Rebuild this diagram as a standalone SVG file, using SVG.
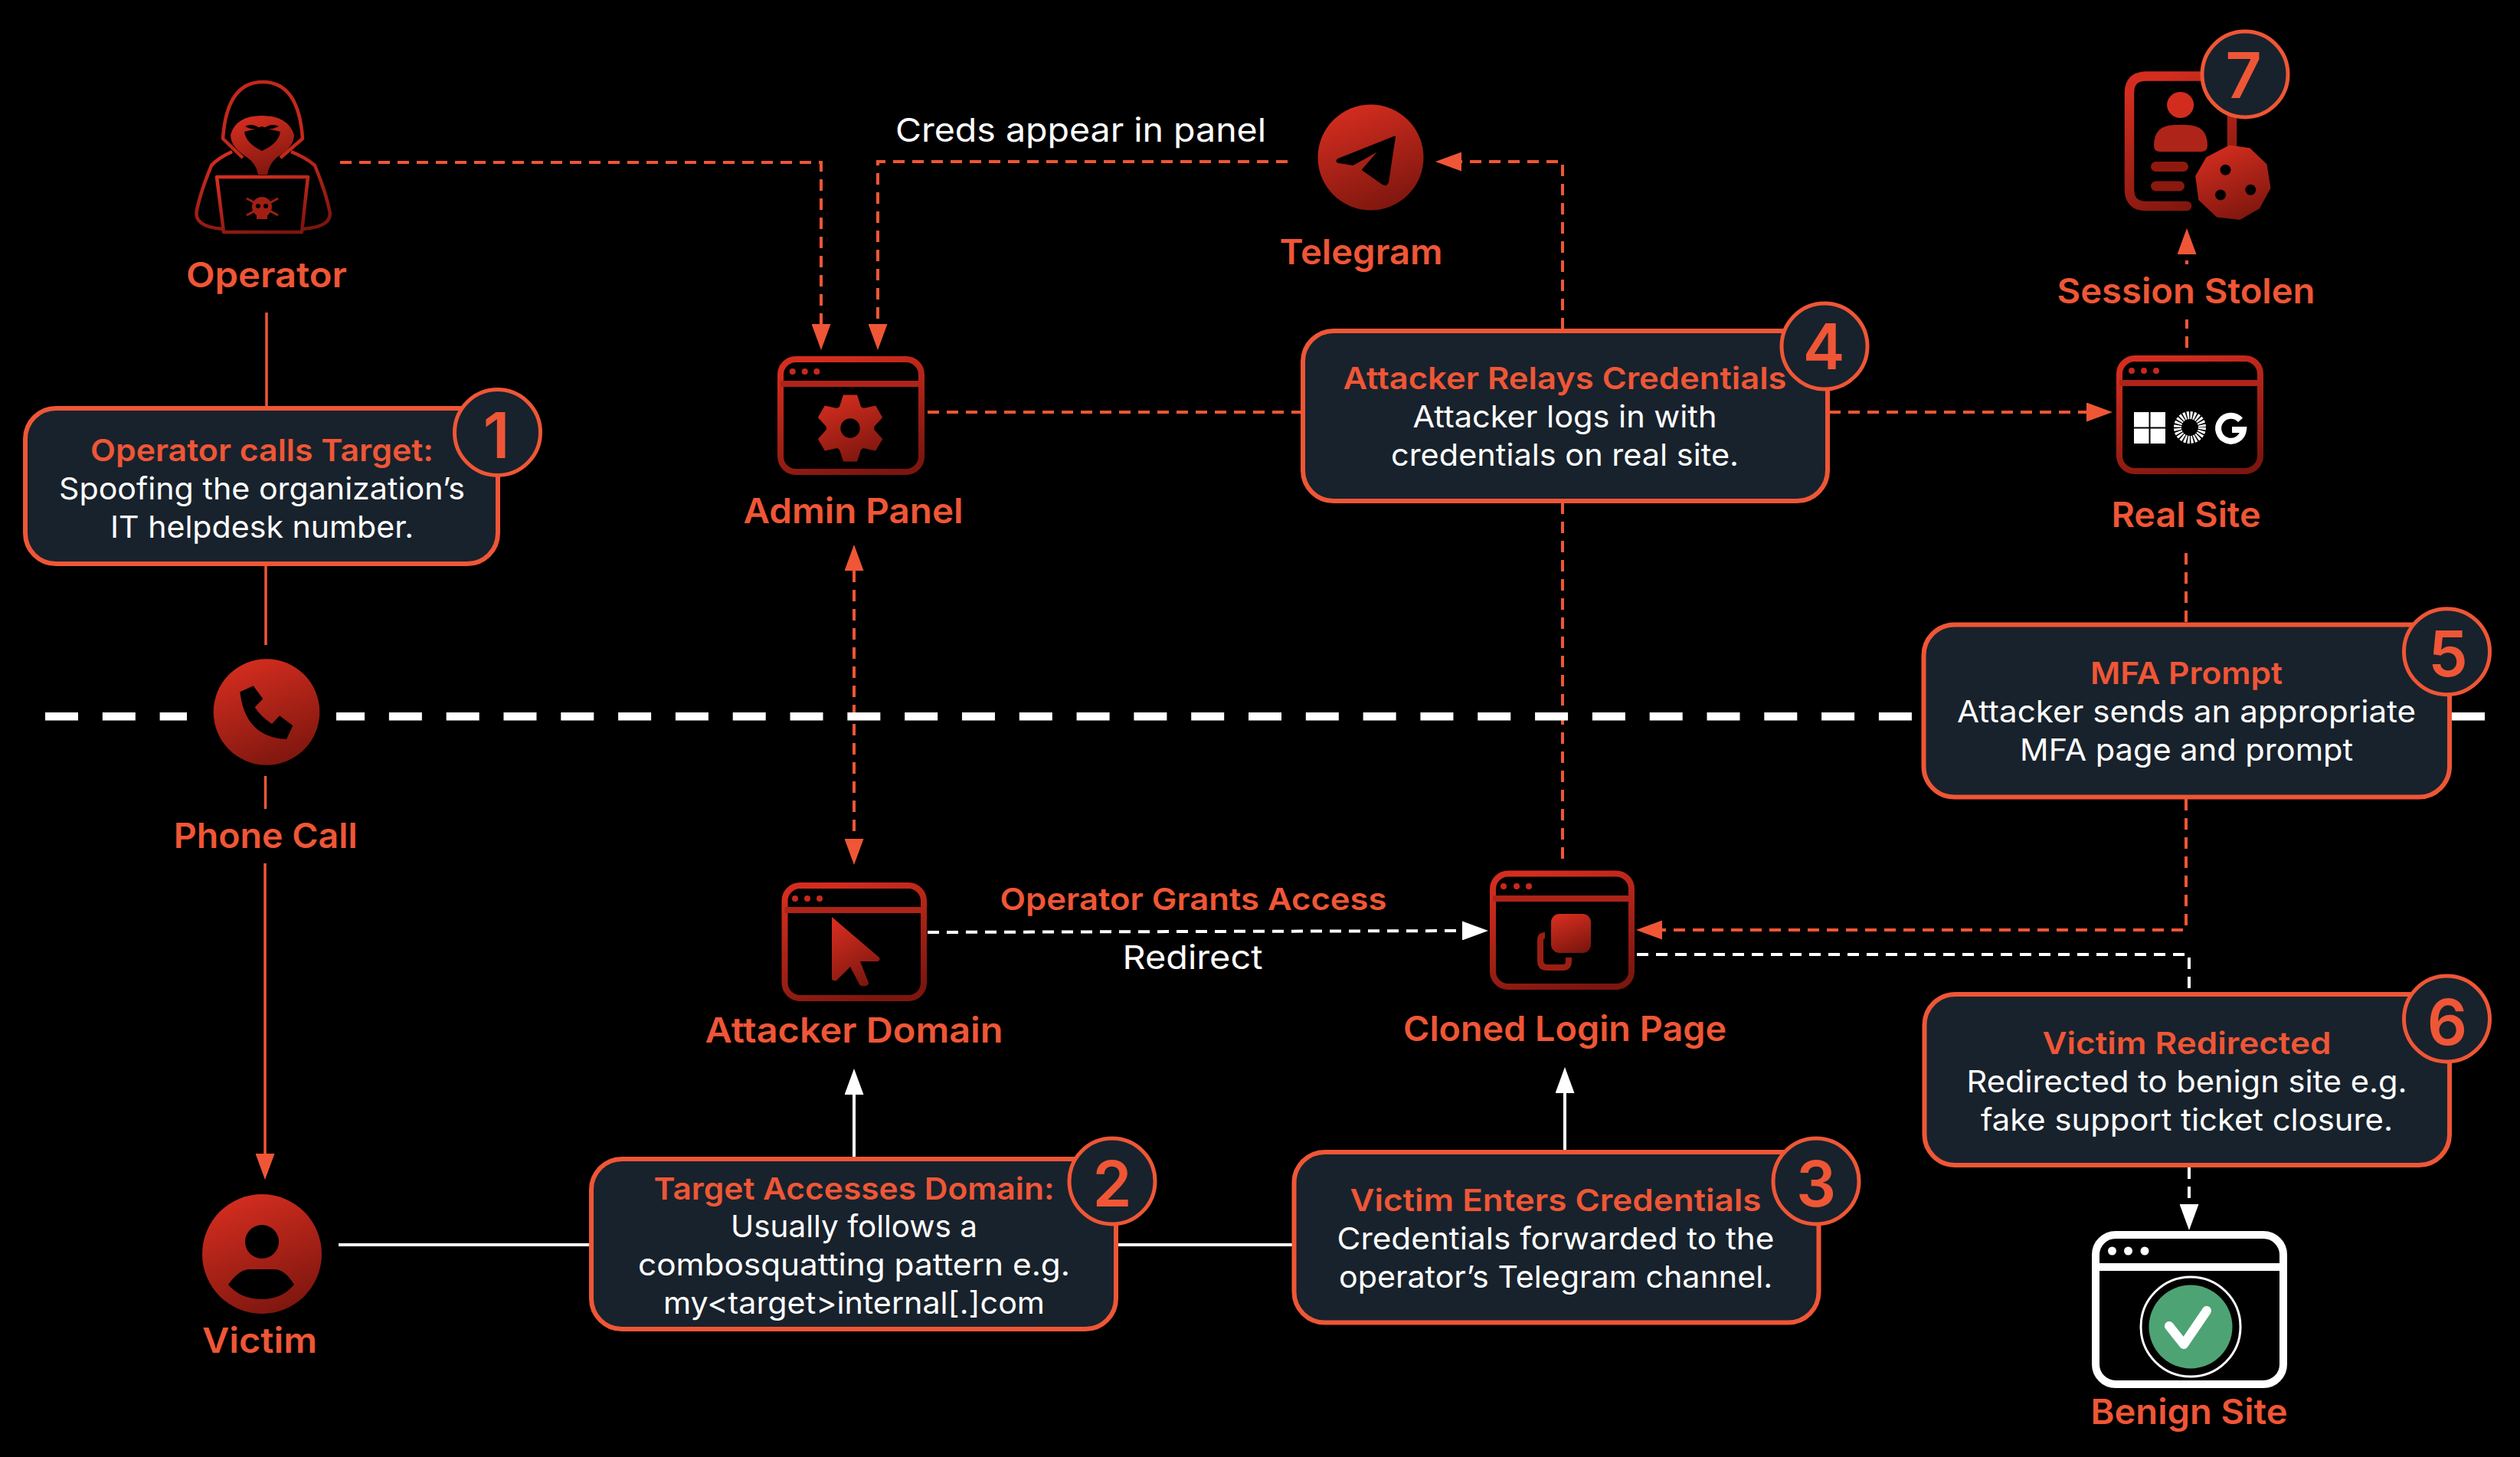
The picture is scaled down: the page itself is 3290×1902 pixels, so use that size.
<svg xmlns="http://www.w3.org/2000/svg" width="3290" height="1902" viewBox="0 0 3290 1902">
<defs>
<linearGradient id="g" x1="0.3" y1="0" x2="0.7" y2="1"><stop offset="0" stop-color="#D42D1F"/><stop offset="1" stop-color="#7C160E"/></linearGradient>
<marker id="ao" viewBox="0 0 34 25" markerUnits="userSpaceOnUse" markerWidth="34" markerHeight="25" refX="0" refY="12.5" orient="auto-start-reverse"><path d="M0,0L34,12.5L0,25Z" fill="#EF5636"/></marker>
<marker id="aw" viewBox="0 0 34 25" markerUnits="userSpaceOnUse" markerWidth="34" markerHeight="25" refX="0" refY="12.5" orient="auto-start-reverse"><path d="M0,0L34,12.5L0,25Z" fill="#fff"/></marker>
</defs>
<style>
text{font-family:"Inter","Liberation Sans",sans-serif;text-anchor:middle;}
.b{font-size:40px;font-weight:400;fill:#fff;}
.h{font-size:40px;font-weight:600;fill:#EF5636;}
.l{font-size:45px;font-weight:600;fill:#EF5636;}
.w{font-size:43px;font-weight:400;fill:#fff;}
.n{font-size:82px;font-weight:600;fill:#EF5636;}
.box{fill:#18222C;stroke:#EF5636;stroke-width:6;}
.badge{fill:#18222C;stroke:#EF5636;stroke-width:5;}
.win{fill:none;stroke:url(#g);stroke-width:8;}
.bar{fill:#AE2418;}
.dot{fill:#C9291C;}
.od{fill:none;stroke:#EF5636;stroke-width:4;stroke-dasharray:15 10;}
.wd{fill:none;stroke:#fff;stroke-width:4;stroke-dasharray:15 10;}
.os{fill:none;stroke:#EF5636;stroke-width:3.5;}
.ws{fill:none;stroke:#fff;stroke-width:4;}
.ico{fill:url(#g);}
.cut{fill:#000;}
</style>
<rect width="3290" height="1902" fill="#000"/>
<g id="connectors">
<path class="od" d="M444,212H1072V423" marker-end="url(#ao)"/>
<path class="od" d="M1681,211H1146V423" marker-end="url(#ao)"/>
<path class="od" d="M1211,538H1699"/>
<path class="od" d="M2388,538H2724" marker-end="url(#ao)"/>
<path class="od" d="M2040,430V211H1908" marker-end="url(#ao)"/>
<path class="od" d="M2040,656V1131"/>
<path class="od" d="M2855,454V417"/>
<path class="od" d="M2855,345V332" style="stroke-dasharray:5 8" marker-end="url(#ao)"/>
<path class="od" d="M2854,722V814"/>
<path class="od" d="M2854,1043V1214H2170" marker-end="url(#ao)"/>
<path class="wd" d="M2137,1246H2858V1296"/>
<path class="wd" d="M2858,1524V1572" marker-end="url(#aw)"/>
<path class="wd" d="M1211,1217L1909,1215" marker-end="url(#aw)"/>
<path class="od" d="M1115,745V1095" marker-start="url(#ao)" marker-end="url(#ao)"/>
<path class="os" d="M348,408V532"/>
<path class="os" d="M347,738V842"/>
<path class="os" d="M346.5,1013V1056"/>
<path class="os" d="M346,1127V1506" marker-end="url(#ao)"/>
<path class="ws" d="M442,1625H770"/>
<path class="ws" d="M1459,1625H1687"/>
<path class="ws" d="M1115,1511V1429" marker-end="url(#aw)"/>
<path class="ws" d="M2043,1502V1427" marker-end="url(#aw)"/>
</g>
<g id="divider">
<path d="M59,935.3H3244" fill="none" stroke="#fff" stroke-width="10.5" stroke-dasharray="43 31.81"/>
<rect x="244" y="925" width="195" height="21" fill="#000"/>
</g>
<g id="operator">
<path d="M317,206L291,181Q296,107 343,107Q390,107 395,181L366,206" fill="none" stroke="#C3281B" stroke-width="4.5" stroke-linejoin="round"/>
<path d="M303,198Q285,206 276,216Q262,250 257,274Q252,296 291,299M380,198Q400,206 411,216Q425,250 430,274Q436,296 395,299" fill="none" stroke="url(#g)" stroke-width="4.5"/>
<path class="ico" d="M301,176Q308,151 342,151Q376,151 384,176Q384,192 362,205Q351,214 349,228H337Q335,214 322,205Q301,192 301,176Z"/>
<path class="cut" d="M319,172Q330,170 342,165Q354,170 366,172Q364,187 342,197Q321,187 319,172Z"/>
<path class="cut" d="M320,165Q330,160 340,168Q328,170 320,165ZM344,168Q354,160 364,165Q354,170 344,168Z"/>
<path d="M283,231H402L394,303H292Z" fill="#000" stroke="url(#g)" stroke-width="4.5" stroke-linejoin="round"/>
<path d="M322,259L363,281M363,259L322,281" stroke="#A01F13" stroke-width="3" fill="none"/>
<circle cx="342" cy="270" r="13" fill="#A01F13"/><rect x="335" y="278" width="14" height="8" fill="#A01F13"/>
<circle cx="337" cy="269" r="3" fill="#000"/><circle cx="347" cy="269" r="3" fill="#000"/>
<text class="l" x="348" y="375" textLength="210" lengthAdjust="spacingAndGlyphs">Operator</text>
</g>
<g id="step1">
<rect class="box" x="33" y="533" width="617" height="203" rx="40"/>
<circle class="badge" cx="649.5" cy="564.5" r="56"/>
<text class="n" x="648" y="598">1</text>
<text class="h" x="342" y="601.5" textLength="448" lengthAdjust="spacingAndGlyphs">Operator calls Target:</text>
<text class="b" x="342" y="651.5" textLength="530" lengthAdjust="spacingAndGlyphs">Spoofing the organization’s</text>
<text class="b" x="342" y="701.5" textLength="396" lengthAdjust="spacingAndGlyphs">IT helpdesk number.</text>
</g>
<g id="phone-call">
<circle class="ico" cx="348" cy="929.5" r="69.3"/>
<path class="cut" d="M313.3,903.3L330.7,895.3L343.3,912.3L332.7,923.3Q341,936 355,945L365,934.3L382.3,947.3L374,965Q320,962.6 313.3,903.3Z"/>
<text class="l" x="346.7" y="1107" textLength="240" lengthAdjust="spacingAndGlyphs">Phone Call</text>
</g>
<g id="victim">
<circle class="ico" cx="342" cy="1637" r="78"/>
<circle class="cut" cx="342" cy="1621" r="22"/>
<path class="cut" d="M298,1677Q312,1657 326,1657H358Q372,1657 384,1677Q368,1696 342,1696Q314,1696 298,1677Z"/>
<text class="l" x="339" y="1766" textLength="150" lengthAdjust="spacingAndGlyphs">Victim</text>
</g>
<g id="admin-panel">
<rect class="win" x="1019" y="469" width="184" height="147" rx="20"/>
<rect class="bar" x="1019" y="497" width="184" height="8"/>
<circle class="dot" cx="1034.7" cy="485" r="4"/><circle class="dot" cx="1050.7" cy="485" r="4"/><circle class="dot" cx="1066.3" cy="485" r="4"/>
<path class="ico" fill-rule="evenodd" transform="translate(1110,559)" d="M-14,-28L-9,-43.5H9L14,-28L17.25,-26.12L33.17,-29.54L42.17,-13.96L31.25,-1.88V1.88L42.17,13.96L33.17,29.54L17.25,26.12L14,28L9,43.5H-9L-14,28L-17.25,26.12L-33.17,29.54L-42.17,13.96L-31.25,1.88V-1.88L-42.17,-13.96L-33.17,-29.54L-17.25,-26.12ZM12.7,0A12.7,12.7 0 1 0 -12.7,0A12.7,12.7 0 1 0 12.7,0Z"/>
<text class="l" x="1114" y="683" textLength="287" lengthAdjust="spacingAndGlyphs">Admin Panel</text>
</g>
<g id="creds-label"><text class="w" x="1411" y="185" textLength="484" lengthAdjust="spacingAndGlyphs">Creds appear in panel</text></g>
<g id="telegram">
<circle class="ico" cx="1789.5" cy="205.5" r="69"/>
<path class="cut" d="M1821,178.5L1746.4,208.3Q1744,211 1748,212L1766.5,215L1802,195L1779,221.7L1805,240Q1810,243 1812,238Z" stroke="#000" stroke-width="2" stroke-linejoin="round"/>
<text class="l" x="1777" y="345" textLength="213" lengthAdjust="spacingAndGlyphs">Telegram</text>
</g>
<g id="step4">
<rect class="box" x="1701" y="432" width="685" height="222" rx="40"/>
<circle class="badge" cx="2382" cy="452" r="56"/>
<text class="n" x="2381" y="482">4</text>
<text class="h" x="2043" y="508" textLength="579" lengthAdjust="spacingAndGlyphs">Attacker Relays Credentials</text>
<text class="b" x="2043" y="558" textLength="397" lengthAdjust="spacingAndGlyphs">Attacker logs in with</text>
<text class="b" x="2043" y="608" textLength="454" lengthAdjust="spacingAndGlyphs">credentials on real site.</text>
</g>
<g id="session-stolen">
<path d="M2855,269H2802Q2780,269 2780,247V121Q2780,99.5 2802,99.5H2892Q2914,99.5 2914,121V215" fill="none" stroke="url(#g)" stroke-width="12.5" stroke-linecap="round"/>
<ellipse cx="2846.6" cy="137" rx="17.5" ry="17" fill="#D22C1F"/>
<path fill="#AE2418" d="M2812,190Q2812,163 2840,163H2854Q2882,163 2882,190Q2882,198 2874,198H2820Q2812,198 2812,190Z"/>
<rect x="2808" y="211" width="49" height="13" rx="6.5" fill="#90190F"/>
<rect x="2808" y="236.5" width="44" height="13" rx="6.5" fill="#8A190F"/>
<path fill="url(#g)" d="M2910.6,189.6L2937.3,193.2L2959.4,214.2L2964.5,245.4L2949.9,272.2L2924.2,287L2894,283.4L2870.3,261L2866.2,229.8L2880.4,205.3Z"/>
<circle class="cut" cx="2905.5" cy="221.8" r="7"/><circle class="cut" cx="2938.3" cy="247.7" r="7"/><circle class="cut" cx="2899" cy="254.4" r="7"/>
<circle class="badge" cx="2931" cy="97" r="56"/>
<text class="n" x="2929" y="128">7</text>
<text class="l" x="2854" y="396" textLength="337" lengthAdjust="spacingAndGlyphs">Session Stolen</text>
</g>
<g id="real-site">
<rect class="win" x="2767" y="468" width="184" height="147" rx="20"/>
<rect class="bar" x="2767" y="496" width="184" height="8"/>
<circle class="dot" cx="2783" cy="484" r="4"/><circle class="dot" cx="2799" cy="484" r="4"/><circle class="dot" cx="2815" cy="484" r="4"/>
<path fill="#fff" d="M2786,538H2805.5V557.5H2786ZM2807.5,538H2827V557.5H2807.5ZM2786,559.5H2805.5V579H2786ZM2807.5,559.5H2827V579H2807.5Z"/>
<circle cx="2859" cy="558" r="16" fill="none" stroke="#fff" stroke-width="10" stroke-dasharray="2.7 1.49"/>
<path d="M2925,548.4A16.5,16.5 0 1 0 2929,561H2914" fill="none" stroke="#fff" stroke-width="8"/>
<text class="l" x="2854" y="688" textLength="195" lengthAdjust="spacingAndGlyphs">Real Site</text>
</g>
<g id="step5">
<rect class="box" x="2511.5" y="815.5" width="686.5" height="225" rx="40"/>
<circle class="badge" cx="3194.5" cy="850.7" r="56"/>
<text class="n" x="3196" y="882.7">5</text>
<text class="h" x="2854.6" y="893" textLength="251" lengthAdjust="spacingAndGlyphs">MFA Prompt</text>
<text class="b" x="2854.6" y="943" textLength="599" lengthAdjust="spacingAndGlyphs">Attacker sends an appropriate</text>
<text class="b" x="2854.6" y="993" textLength="435" lengthAdjust="spacingAndGlyphs">MFA page and prompt</text>
</g>
<g id="attacker-domain">
<rect class="win" x="1024.5" y="1156" width="181.5" height="147" rx="20"/>
<rect class="bar" x="1024.5" y="1184" width="181.5" height="8"/>
<circle class="dot" cx="1038" cy="1173" r="4"/><circle class="dot" cx="1054" cy="1173" r="4"/><circle class="dot" cx="1070" cy="1173" r="4"/>
<path class="ico" d="M1086,1197L1148,1250Q1150,1255 1144,1255H1123L1134,1283Q1134,1288 1126,1287Q1122,1287 1121,1283L1110,1262L1092,1280Q1086,1281 1086,1277Z"/>
<text class="l" x="1115" y="1361" textLength="389" lengthAdjust="spacingAndGlyphs">Attacker Domain</text>
</g>
<g id="grant-labels">
<text class="h" x="1558" y="1188" textLength="505" lengthAdjust="spacingAndGlyphs">Operator Grants Access</text>
<text class="w" x="1557" y="1265" textLength="183" lengthAdjust="spacingAndGlyphs">Redirect</text>
</g>
<g id="cloned-login">
<rect class="win" x="1949" y="1140.5" width="181" height="147.5" rx="20"/>
<rect class="bar" x="1949" y="1169" width="181" height="8"/>
<circle class="dot" cx="1963" cy="1157" r="4"/><circle class="dot" cx="1980" cy="1157" r="4"/><circle class="dot" cx="1996" cy="1157" r="4"/>
<path d="M2016,1221H2017Q2011,1221 2011,1227V1254Q2011,1263 2020,1263H2040Q2048,1263 2048,1254V1250" fill="none" stroke="#9B1E13" stroke-width="8"/>
<rect class="ico" x="2025" y="1193" width="52" height="51" rx="11"/>
<text class="l" x="2043" y="1359" textLength="422" lengthAdjust="spacingAndGlyphs">Cloned Login Page</text>
</g>
<g id="step2">
<rect class="box" x="772" y="1513" width="685" height="222" rx="40"/>
<circle class="badge" cx="1452" cy="1542" r="56"/>
<text class="n" x="1452" y="1575">2</text>
<text class="h" x="1115" y="1566" textLength="523" lengthAdjust="spacingAndGlyphs">Target Accesses Domain:</text>
<text class="b" x="1115" y="1615" textLength="322" lengthAdjust="spacingAndGlyphs">Usually follows a</text>
<text class="b" x="1115" y="1665" textLength="564" lengthAdjust="spacingAndGlyphs">combosquatting pattern e.g.</text>
<text class="b" x="1115" y="1715" textLength="498" lengthAdjust="spacingAndGlyphs">my&lt;target&gt;internal[.]com</text>
</g>
<g id="step3">
<rect class="box" x="1689.5" y="1504" width="685" height="222.5" rx="40"/>
<circle class="badge" cx="2371" cy="1542" r="56"/>
<text class="n" x="2371" y="1575">3</text>
<text class="h" x="2031" y="1581" textLength="537" lengthAdjust="spacingAndGlyphs">Victim Enters Credentials</text>
<text class="b" x="2031" y="1631" textLength="571" lengthAdjust="spacingAndGlyphs">Credentials forwarded to the</text>
<text class="b" x="2031" y="1681" textLength="566" lengthAdjust="spacingAndGlyphs">operator’s Telegram channel.</text>
</g>
<g id="step6">
<rect class="box" x="2512.5" y="1298" width="685.5" height="223" rx="40"/>
<circle class="badge" cx="3194.5" cy="1330" r="56"/>
<text class="n" x="3195" y="1364">6</text>
<text class="h" x="2855" y="1376" textLength="377" lengthAdjust="spacingAndGlyphs">Victim Redirected</text>
<text class="b" x="2855" y="1426" textLength="575" lengthAdjust="spacingAndGlyphs">Redirected to benign site e.g.</text>
<text class="b" x="2855" y="1476" textLength="538" lengthAdjust="spacingAndGlyphs">fake support ticket closure.</text>
</g>
<g id="benign-site">
<rect x="2736" y="1612" width="245" height="195" rx="26" fill="none" stroke="#fff" stroke-width="10"/>
<rect x="2736" y="1649" width="245" height="10" fill="#fff"/>
<circle cx="2757.5" cy="1633" r="5.5" fill="#fff"/><circle cx="2778.5" cy="1633" r="5.5" fill="#fff"/><circle cx="2800" cy="1633" r="5.5" fill="#fff"/>
<circle cx="2860" cy="1732" r="65" fill="none" stroke="#fff" stroke-width="3"/>
<circle cx="2860" cy="1732" r="54.5" fill="#4EA374"/>
<path d="M2832,1731L2851,1755L2881,1711" fill="none" stroke="#fff" stroke-width="12" stroke-linecap="round" stroke-linejoin="round"/>
<text class="l" x="2858" y="1859" textLength="257" lengthAdjust="spacingAndGlyphs">Benign Site</text>
</g>
</svg>
